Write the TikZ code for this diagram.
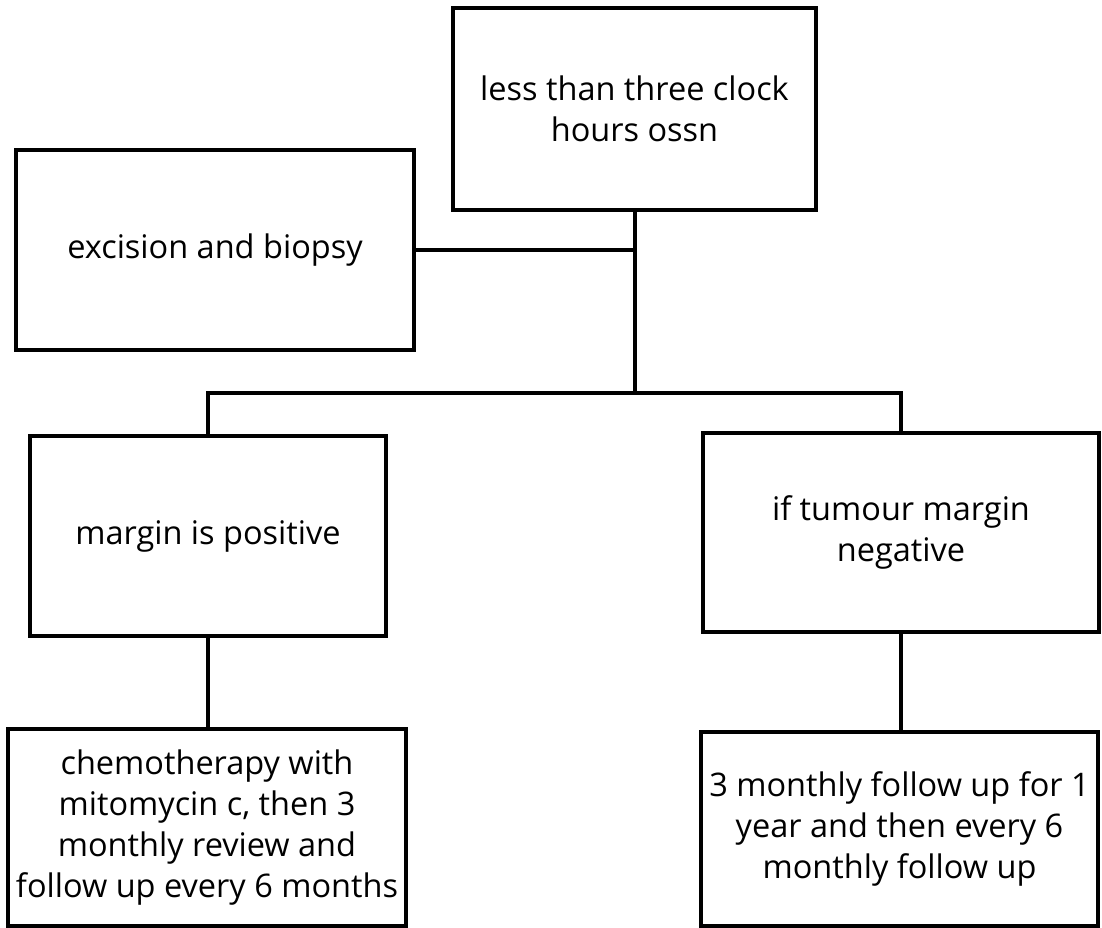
\documentclass[tikz,border=0pt]{standalone}
\usepackage{fontspec}
\setmainfont{Open Sans}
\begin{document}
\begin{tikzpicture}[x=1pt,y=-1pt,
  box/.style={draw=black,line width=4.5pt,rectangle,inner sep=0pt,outer sep=0pt,
    align=center,font=\fontsize{32.5}{41}\selectfont},
  link/.style={draw=black,line width=4pt}]
\useasboundingbox (0,0) rectangle (1102,928);
\node[box,minimum width=363pt,minimum height=202pt] (top) at (634.5,109) {less than three clock\\hours ossn};
\node[box,minimum width=398pt,minimum height=200pt] (exc) at (215,250) {excision and biopsy};
\node[box,minimum width=356pt,minimum height=200pt] (pos) at (208,536) {margin is positive};
\node[box,minimum width=396pt,minimum height=199pt] (neg) at (901,532.5) {if tumour margin\\negative};
\node[box,minimum width=398pt,minimum height=197pt] (chemo) at (207,827.5) {chemotherapy with\\mitomycin c, then 3\\monthly review and\\follow up every 6 months};
\node[box,minimum width=397pt,minimum height=194pt] (fol) at (899.5,829) {3 monthly follow up for 1\\year and then every 6\\monthly follow up};
\coordinate (j1) at (top.south |- exc.east);
\coordinate (j2) at (634.5,393);
\draw[link] (exc.east) -- (j1);
\draw[link] (top.south) -- (j2);
\draw[link] (j2) -| (pos.north);
\draw[link] (j2) -| (neg.north);
\draw[link] (pos.south) -- (chemo.north -| pos.south);
\draw[link] (neg.south) -- (fol.north -| neg.south);
\end{tikzpicture}
\end{document}
